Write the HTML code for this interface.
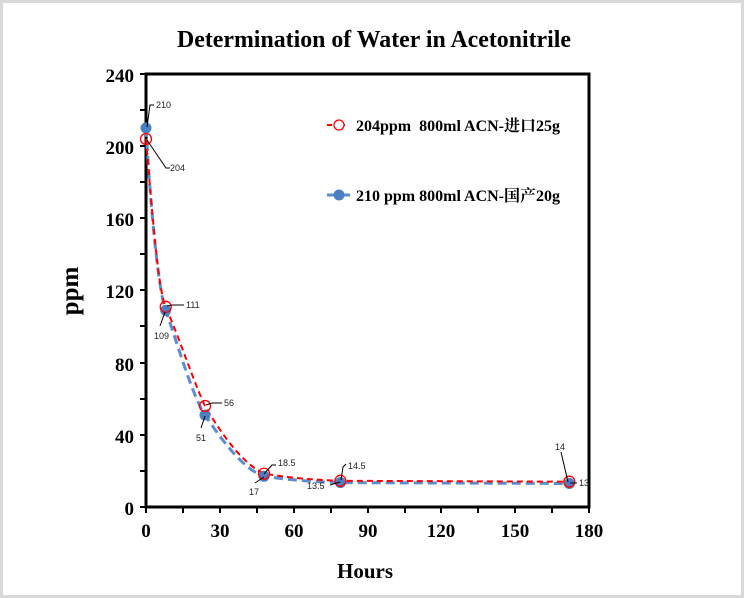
<!DOCTYPE html>
<html><head><meta charset="utf-8"><style>
html,body{margin:0;padding:0;background:#fff}
svg{display:block}
text{font-family:"Liberation Serif","Noto Serif CJK SC",serif}
.l text{font-family:"Liberation Sans",sans-serif;font-size:9px;fill:#222}
</style></head><body>
<svg width="744" height="598" viewBox="0 0 744 598" xmlns="http://www.w3.org/2000/svg">
<rect x="0" y="0" width="744" height="598" fill="#fff"/>
<rect x="1.5" y="1.5" width="741" height="595" fill="none" stroke="#d9d9d9" stroke-width="3"/>
<text x="374" y="47" text-anchor="middle" font-size="24" font-weight="bold" textLength="394" lengthAdjust="spacingAndGlyphs">Determination of Water in Acetonitrile</text>
<rect x="146" y="74" width="443" height="433" fill="none" stroke="#000" stroke-width="3"/>
<g stroke="#000" stroke-width="2">
<line x1="140" y1="74" x2="146" y2="74"/><line x1="140" y1="110" x2="146" y2="110"/>
<line x1="140" y1="146" x2="146" y2="146"/><line x1="140" y1="182" x2="146" y2="182"/>
<line x1="140" y1="218" x2="146" y2="218"/><line x1="140" y1="254" x2="146" y2="254"/>
<line x1="140" y1="290" x2="146" y2="290"/><line x1="140" y1="326" x2="146" y2="326"/>
<line x1="140" y1="363" x2="146" y2="363"/><line x1="140" y1="399" x2="146" y2="399"/>
<line x1="140" y1="435" x2="146" y2="435"/><line x1="140" y1="471" x2="146" y2="471"/>
<line x1="140" y1="507" x2="146" y2="507"/>
<line x1="146" y1="507" x2="146" y2="513"/><line x1="183" y1="507" x2="183" y2="513"/>
<line x1="220" y1="507" x2="220" y2="513"/><line x1="257" y1="507" x2="257" y2="513"/>
<line x1="294" y1="507" x2="294" y2="513"/><line x1="331" y1="507" x2="331" y2="513"/>
<line x1="368" y1="507" x2="368" y2="513"/><line x1="405" y1="507" x2="405" y2="513"/>
<line x1="441" y1="507" x2="441" y2="513"/><line x1="478" y1="507" x2="478" y2="513"/>
<line x1="515" y1="507" x2="515" y2="513"/><line x1="552" y1="507" x2="552" y2="513"/>
<line x1="589" y1="507" x2="589" y2="513"/>
</g>
<g font-size="19" font-weight="bold" text-anchor="end">
<text x="134" y="82">240</text><text x="134" y="154">200</text><text x="134" y="226">160</text>
<text x="134" y="298">120</text><text x="134" y="371">80</text><text x="134" y="443">40</text>
<text x="134" y="515">0</text>
</g>
<g font-size="19" font-weight="bold" text-anchor="middle">
<text x="146" y="537">0</text><text x="220" y="537">30</text><text x="294" y="537">60</text>
<text x="368" y="537">90</text><text x="441" y="537">120</text><text x="515" y="537">150</text>
<text x="589" y="537">180</text>
</g>
<text x="365" y="578" text-anchor="middle" font-size="21" font-weight="bold">Hours</text>
<text transform="translate(78,291) rotate(-90)" text-anchor="middle" font-size="25" font-weight="bold">ppm</text>
<path d="M146,128 C150,200 158,290 165.7,310.4 C178,345 192,395 205,415 C225,445 245,470 264,476.3 C290,480 315,482 340.4,482.6 L569.3,483.5" fill="none" stroke="#5b8ed0" stroke-width="3" stroke-dasharray="9,5"/>
<path d="M146,139 C152,210 158,290 165.7,306.8 C180,340 195,385 205,406 C225,440 245,465 264,473.6 C290,478 315,480 340.4,480.8 L569.3,481.7" fill="none" stroke="#f00" stroke-width="2" stroke-dasharray="6,4"/>
<g fill="#4a7fc1">
<circle cx="146" cy="128" r="5.5"/><circle cx="165.7" cy="310.4" r="5.5"/><circle cx="205" cy="415" r="5.5"/>
<circle cx="264" cy="476.3" r="5.5"/><circle cx="340.4" cy="482.6" r="5.5"/><circle cx="569.3" cy="483.5" r="5.5"/>
</g>
<g fill="none" stroke="#f00" stroke-width="1.3">
<circle cx="146" cy="139" r="5.5"/><circle cx="165.7" cy="306.8" r="5.5"/><circle cx="205" cy="406" r="5.5"/>
<circle cx="264" cy="473.6" r="5.5"/><circle cx="340.4" cy="480.8" r="5.5"/><circle cx="569.3" cy="481.7" r="5.5"/>
</g>
<g stroke="#000" stroke-width="1" fill="none">
<polyline points="147,127 150,105 154,105"/>
<polyline points="147,140 166,168 170,168"/>
<polyline points="167,306 172,305 184,305"/>
<polyline points="165,312 160,326"/>
<polyline points="206,405 212,403 222,403"/>
<polyline points="205,416 201,428"/>
<polyline points="264,474 272,465 276,465"/>
<polyline points="264,477 255,483"/>
<polyline points="341,480 343,467 346,464"/>
<polyline points="340,482 330,485"/>
<polyline points="568,482 561,452"/>
<polyline points="570,483 577,483"/>
</g>
<g class="l">
<text x="156" y="108">210</text>
<text x="170" y="171">204</text>
<text x="186" y="308">111</text>
<text x="154" y="339">109</text>
<text x="224" y="406">56</text>
<text x="196" y="441">51</text>
<text x="278" y="466">18.5</text>
<text x="249" y="495">17</text>
<text x="348" y="469">14.5</text>
<text x="307" y="489">13.5</text>
<text x="555" y="450">14</text>
<text x="579" y="486">13</text>
</g>
<line x1="327" y1="125" x2="345" y2="125" stroke="#f00" stroke-width="2" stroke-dasharray="5,3"/>
<circle cx="339" cy="125" r="5" fill="#fff" stroke="#f00" stroke-width="1.3"/>
<text x="356" y="131" font-size="16" font-weight="bold">204ppm&#160; 800ml ACN-进口25g</text>
<line x1="327" y1="195" x2="350" y2="195" stroke="#5b8ed0" stroke-width="3"/>
<circle cx="339" cy="195" r="5.5" fill="#4a7fc1"/>
<text x="356" y="201" font-size="16" font-weight="bold">210 ppm 800ml ACN-国产20g</text>
</svg>
</body></html>
